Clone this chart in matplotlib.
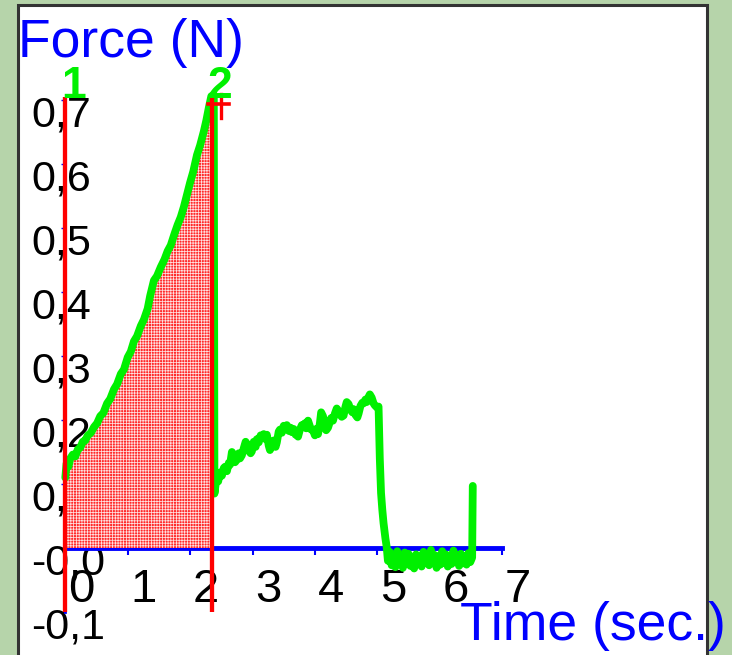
import numpy as np
import matplotlib
matplotlib.use('Agg')
import matplotlib.pyplot as plt
from matplotlib.transforms import ScaledTranslation, blended_transform_factory
from matplotlib.patches import Rectangle

# ---------------- data ----------------
rise_time = [0.00, 0.02, 0.05, 0.08, 0.12, 0.16, 0.20, 0.24, 0.28, 0.32, 0.36, 0.41,
             0.46, 0.51, 0.56, 0.61, 0.67, 0.72, 0.78, 0.83, 0.89, 0.94, 1.00, 1.05,
             1.10, 1.15, 1.21, 1.26, 1.32, 1.36, 1.42, 1.47, 1.53, 1.59, 1.64, 1.69,
             1.75, 1.80, 1.85, 1.90, 1.95, 2.00, 2.05, 2.11, 2.16, 2.22, 2.26, 2.30,
             2.34, 2.38]
rise_force = [0.110, 0.132, 0.127, 0.140, 0.146, 0.143, 0.154, 0.157, 0.166, 0.168, 0.176, 0.180,
              0.189, 0.195, 0.206, 0.211, 0.226, 0.233, 0.248, 0.256, 0.272, 0.279, 0.298, 0.307,
              0.323, 0.331, 0.347, 0.357, 0.374, 0.394, 0.418, 0.425, 0.439, 0.451, 0.464, 0.473,
              0.491, 0.505, 0.517, 0.533, 0.552, 0.571, 0.588, 0.614, 0.629, 0.651, 0.668, 0.688,
              0.706, 0.708]

hold_time = [2.39, 2.41, 2.43, 2.45, 2.48, 2.51, 2.54, 2.56, 2.59, 2.62, 2.64, 2.67, 2.69,
             2.72, 2.75, 2.78, 2.80, 2.83, 2.86, 2.89, 2.91, 2.94, 2.97, 2.99, 3.02, 3.05,
             3.07, 3.10, 3.13, 3.15, 3.18, 3.21, 3.23, 3.26, 3.28, 3.31, 3.34, 3.37, 3.39,
             3.42, 3.44, 3.47, 3.50, 3.53, 3.55, 3.58, 3.61, 3.63, 3.66, 3.69, 3.71, 3.73,
             3.76, 3.79, 3.81, 3.84, 3.86, 3.89, 3.92, 3.94, 3.97, 4.00, 4.02, 4.05, 4.08,
             4.10, 4.13, 4.16, 4.18, 4.21, 4.24, 4.26, 4.29, 4.32, 4.35, 4.38, 4.40, 4.43,
             4.46, 4.49, 4.51, 4.54, 4.57, 4.60, 4.62, 4.65, 4.68, 4.70, 4.73, 4.76, 4.78,
             4.81, 4.83, 4.86, 4.88, 4.91, 4.94, 4.96, 4.99, 5.02]
hold_force = [0.085, 0.100, 0.111, 0.104, 0.118, 0.113, 0.125, 0.127, 0.120, 0.133, 0.130, 0.150, 0.146,
              0.134, 0.138, 0.148, 0.140, 0.145, 0.156, 0.166, 0.162, 0.152, 0.148, 0.151, 0.166, 0.158,
              0.170, 0.165, 0.176, 0.172, 0.178, 0.170, 0.177, 0.160, 0.153, 0.160, 0.168, 0.158, 0.165,
              0.182, 0.185, 0.180, 0.191, 0.186, 0.192, 0.183, 0.188, 0.181, 0.186, 0.177, 0.182, 0.174,
              0.185, 0.192, 0.189, 0.195, 0.187, 0.199, 0.190, 0.185, 0.184, 0.176, 0.186, 0.178, 0.195,
              0.212, 0.206, 0.190, 0.184, 0.188, 0.197, 0.203, 0.199, 0.210, 0.218, 0.214, 0.209, 0.205,
              0.207, 0.221, 0.228, 0.225, 0.216, 0.212, 0.217, 0.208, 0.204, 0.210, 0.222, 0.227, 0.226,
              0.232, 0.228, 0.236, 0.240, 0.235, 0.226, 0.223, 0.220, 0.221]

release_time = [5.04, 5.06, 5.08, 5.10, 5.13, 5.15,
                5.17, 5.20, 5.23, 5.26, 5.29, 5.32, 5.35, 5.38, 5.41, 5.44,
                5.47, 5.50, 5.53, 5.56, 5.59, 5.62, 5.65, 5.68, 5.71, 5.74,
                5.77, 5.80, 5.83, 5.86, 5.89, 5.92, 5.95, 5.98, 6.01, 6.04,
                6.07, 6.10, 6.13, 6.16, 6.19, 6.22, 6.25, 6.28, 6.31, 6.34,
                6.37, 6.40, 6.43, 6.46, 6.49, 6.52, 6.53]
release_force = [0.140, 0.086, 0.060, 0.039, 0.015, 0.002,
                 -0.020, -0.006, -0.027, -0.011, -0.030, -0.005, -0.024, -0.013, -0.031, -0.007,
                 -0.022, -0.009, -0.028, -0.014, -0.032, -0.010, -0.025, -0.016, -0.029, -0.006,
                 -0.023, -0.012, -0.027, -0.003, -0.020, -0.011, -0.031, -0.013, -0.026, -0.005,
                 -0.023, -0.010, -0.029, -0.013, -0.025, -0.004, -0.021, -0.011, -0.028, -0.009,
                 -0.024, -0.013, -0.026, -0.008, -0.022, -0.015, 0.097]

cursor_times = [0.0, 2.355]
cursor_labels = ['1', '2']
x_ticks = [0, 1, 2, 3, 4, 5, 6, 7]
x_tick_labels = ['0', '1', '2', '3', '4', '5', '6', '7']
y_ticks = [0.7, 0.6, 0.5, 0.4, 0.3, 0.2, 0.1, 0.0, -0.1]
y_tick_labels = ['0,7', '0,6', '0,5', '0,4', '0,3', '0,2', '0,1', '-0,0', '-0,1']
y_title = 'Force (N)'
x_title = 'Time (sec.)'

# ---------------- figure ----------------
plt.rcParams['font.family'] = ['Liberation Sans', 'DejaVu Sans']
plt.rcParams['hatch.linewidth'] = 0.55

W, H = 732, 655
fig = plt.figure(figsize=(W / 100, H / 100), dpi=100, facecolor='#b6d4aa')

panel = Rectangle((18 / W, -0.02), (707 - 18) / W, 1 - 5 / H + 0.02,
                  transform=fig.transFigure, facecolor='white',
                  edgecolor='#333333', linewidth=2.2, zorder=-5)
fig.patches.append(panel)

ax = fig.add_axes([0, 0, 1, 1])
ax.set_zorder(1)
ax.patch.set_visible(False)
x0_px, xs = 65.3, 62.4
y0_px, ys = 548.0, 640.0
ax.set_xlim(-x0_px / xs, (W - x0_px) / xs)
ax.set_ylim(-(H - y0_px) / ys, y0_px / ys)

for s in ['top', 'right']:
    ax.spines[s].set_visible(False)
ax.spines['bottom'].set_position(('data', 0))
ax.spines['bottom'].set_bounds(0, 7)
ax.spines['bottom'].set_color('#0000ff')
ax.spines['bottom'].set_linewidth(3.5)
ax.spines['left'].set_position(('data', 0))
ax.spines['left'].set_bounds(-0.1, 0.7)
ax.spines['left'].set_color('#0000ff')
ax.spines['left'].set_linewidth(2.0)
ax.set_xticks(x_ticks)
ax.set_yticks(y_ticks)
ax.tick_params(axis='x', direction='out', length=5, width=1.5, color='#0000ff',
               labelbottom=False)
ax.tick_params(axis='y', direction='out', length=3, width=1.0, color='#0000ff',
               labelleft=False)

time = np.array(rise_time + hold_time + release_time)
force = np.array(rise_force + hold_force + release_force)

# shaded integral region between the two cursors
c1, c2 = cursor_times
mask = (time >= c1) & (time <= c2)
tf = np.append(time[mask], c2)
ff = np.append(force[mask], np.interp(c2, time, force))
ax.fill_between(tf, 0, ff, facecolor='#ff2a2a', edgecolor='#ffe0e0', hatch='++++++',
                linewidth=0, zorder=3)

ax.plot(time, force, color='#00f000', linewidth=5.6, solid_joinstyle='round',
        solid_capstyle='round', zorder=4)

ax.vlines(cursor_times, -0.1, 0.705, colors='#ff0000', linewidth=3.1, zorder=5)
# small cursor handle on cursor 2
ax.plot([c2 + 0.14, c2 + 0.14], [0.672, 0.709], color='#ff0000', linewidth=2.4, zorder=5)
ax.plot([c2 - 0.07, c2 + 0.27], [0.693, 0.693], color='#ff0000', linewidth=2.6, zorder=5)

# cursor labels
lab_off = ScaledTranslation(8 / 100, 0, fig.dpi_scale_trans)
for ct, lab in zip(cursor_times, cursor_labels):
    ax.text(ct, 0.703, lab, transform=ax.transData + lab_off, ha='center', va='baseline',
            fontsize=32, fontweight='bold', color='#00f000', zorder=6)

# tick labels (offset as in the reference)
x_off = ScaledTranslation(16 / 100, -54 / 100, fig.dpi_scale_trans)
for v, lab in zip(x_ticks, x_tick_labels):
    ax.text(v, 0, lab, transform=ax.transData + x_off, ha='center', va='baseline',
            fontsize=34, color='black', zorder=2)

y_trans = blended_transform_factory(ax.transAxes, ax.transData) + \
    ScaledTranslation(0, -26.5 / 100, fig.dpi_scale_trans)
for v, lab in zip(y_ticks, y_tick_labels):
    ax.text(31 / W, v, lab, transform=y_trans, ha='left', va='baseline',
            fontsize=31, color='black', zorder=2)

fig.text(17.5 / W, 1 - 56.7 / H, y_title, fontsize=38.5, color='#0000ff',
         ha='left', va='baseline', zorder=10)
fig.text(460.5 / W, 1 - 640 / H, x_title, fontsize=38.5, color='#0000ff',
         ha='left', va='baseline', zorder=10)

fig.savefig('out.png', dpi=100, facecolor=fig.get_facecolor())
